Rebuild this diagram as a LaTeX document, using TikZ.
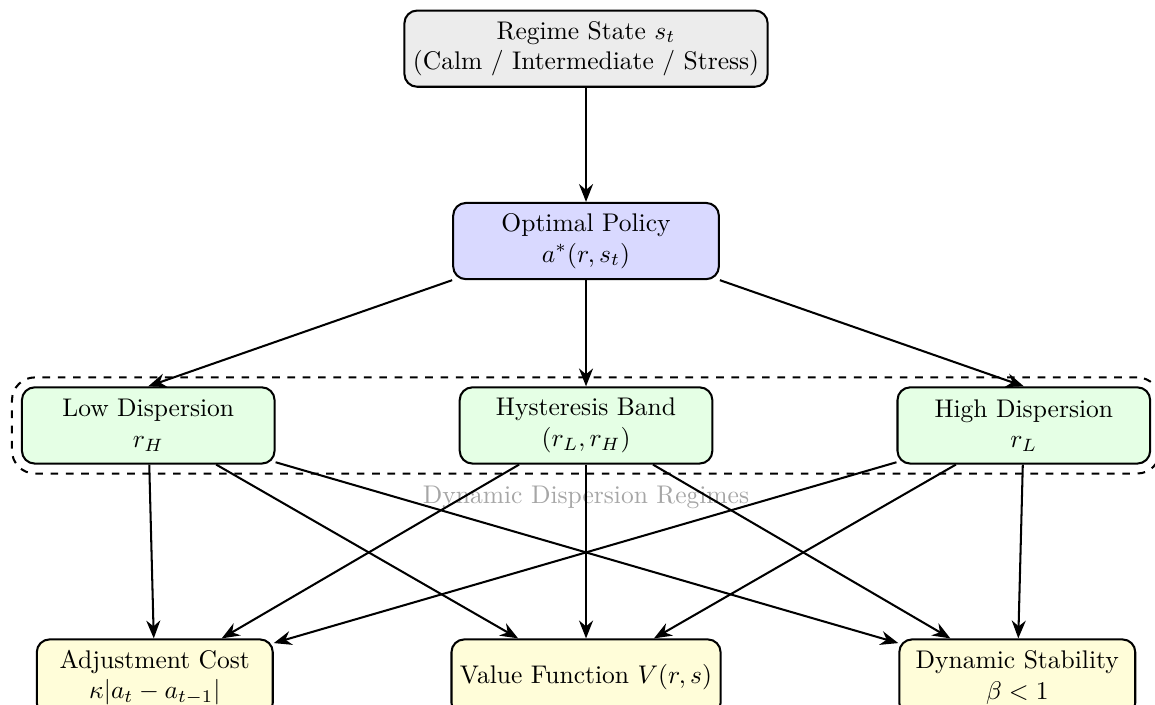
\documentclass[tikz,border=0pt]{standalone}
\usetikzlibrary{arrows.meta,fit}
\begin{document}
\begin{tikzpicture}[
  box/.style={draw, thick, rounded corners=5pt, align=center, minimum height=1.05cm, inner sep=3.33pt},
  topbox/.style={box, fill=gray!15},
  polbox/.style={box, fill=blue!15, minimum width=3.66cm},
  midbox/.style={box, fill=green!10, minimum width=3.48cm},
  botbox/.style={box, fill=yellow!15, minimum width=3.25cm},
  arr/.style={thick, -{Stealth[length=7pt,width=5.5pt]}},
  grp/.style={draw, thick, dashed, rounded corners=9pt, inner sep=3.5pt},
  lbl/.style={text=black!35, inner sep=0pt}
]
\useasboundingbox (-8.072,-6.377) rectangle (7.837,3.320);

\node[topbox] (reg) at (0,2.65) {Regime State $s_t$\\(Calm / Intermediate / Stress)};
\node[polbox] (opt) at (0,0) {Optimal Policy\\$a^*(r,s_t)$};

\node[midbox] (low) at (-6.03,-2.54) {Low Dispersion\\$r_H$};
\node[midbox] (hys) at (0,-2.54) {Hysteresis Band\\$(r_L,r_H)$};
\node[midbox] (high) at (6.03,-2.54) {High Dispersion\\$r_L$};

\node[botbox] (adj) at (-5.94,-6.012) {Adjustment Cost\\$\kappa|a_t-a_{t-1}|$};
\node[botbox] (val) at (0,-6.012) {Value Function $V(r,s)$};
\node[botbox] (stab) at (5.94,-6.012) {Dynamic Stability\\$\beta<1$};

\node[grp, fit=(low)(hys)(high)] (grpbox) {};
\node[lbl, anchor=base] (grplbl) at (0,-3.62) {Dynamic Dispersion Regimes};

\draw[arr] (reg) -- (opt);
\draw[arr] (opt.south west) -- (low.north);
\draw[arr] (opt) -- (hys);
\draw[arr] (opt.south east) -- (high.north);

\draw[arr] (low) -- (adj);
\draw[arr] (low) -- (val);
\draw[arr] (low) -- (stab);
\draw[arr] (hys) -- (adj);
\draw[arr] (hys) -- (val);
\draw[arr] (hys) -- (stab);
\draw[arr] (high) -- (adj);
\draw[arr] (high) -- (val);
\draw[arr] (high) -- (stab);
\end{tikzpicture}
\end{document}
